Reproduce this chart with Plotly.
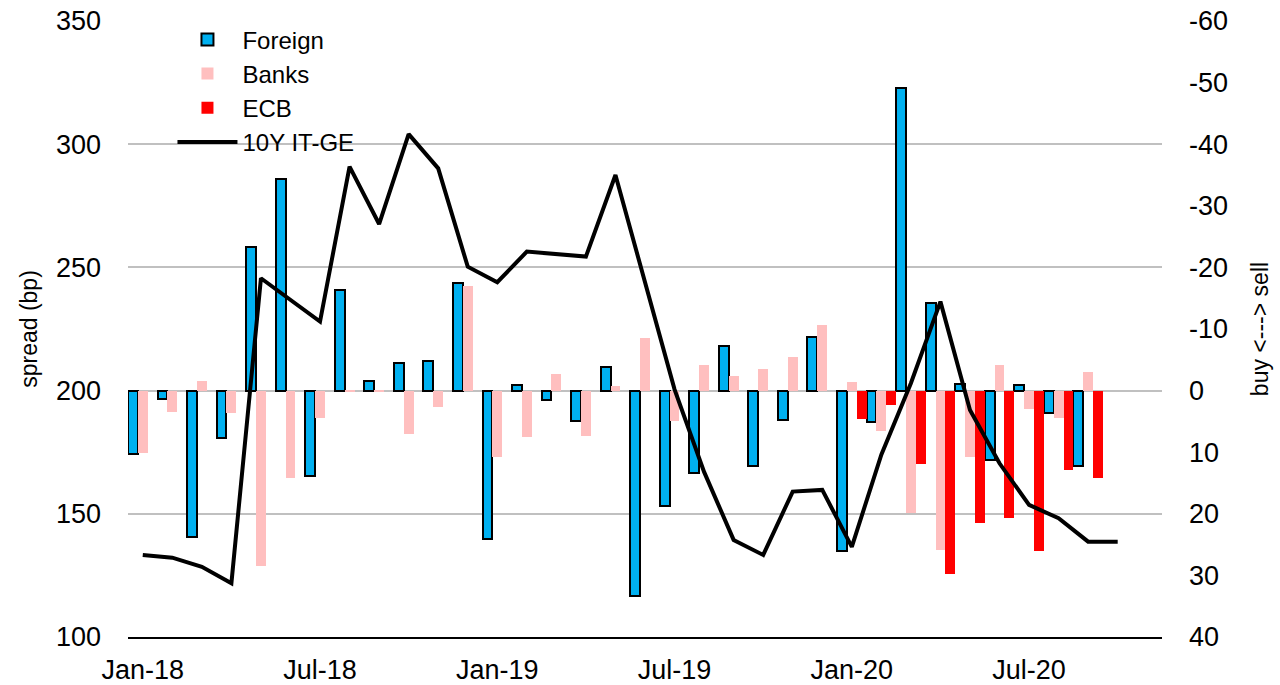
import plotly.graph_objects as go
import pandas as pd

# Categories: monthly, Jan-18 .. Nov-20
months = list(pd.date_range("2018-01-01", "2020-11-01", freq="MS").strftime("%b-%y"))
tick_labels = ["Jan-18", "Jul-18", "Jan-19", "Jul-19", "Jan-20", "Jul-20"]
right_ticks = [-60, -50, -40, -30, -20, -10, 0, 10, 20, 30, 40]
left_ticks = [100, 150, 200, 250, 300, 350]

# Net purchases (right axis, reversed: negative = sell), Jan-18 .. Sep-20
foreign = [10.3, 1.3, 23.8, 7.7, -23.3, -34.4, 13.9, -16.3, -1.6, -4.5, -4.8, -17.4,
           24.1, -0.9, 1.6, 4.9, -3.8, 33.4, 18.7, 13.4, -7.3, 12.2, 4.8, -8.7,
           26.0, 5.1, -49.1, -14.2, -1.1, 11.3, -0.9, 3.7, 12.3]
banks = [10.2, 3.4, -1.5, 3.7, 28.5, 14.2, 4.4, 0.3, 0.3, 7.1, 2.7, -17.0,
         10.7, 7.6, -2.7, 7.3, -0.8, -8.5, 4.9, -4.2, -2.3, -3.5, -5.4, -10.6,
         -1.4, 6.5, 19.9, 25.9, 10.7, -4.1, 3.0, 4.4, -3.0]
ecb = [None] * 24 + [4.6, 2.4, 11.9, 29.8, 21.5, 20.6, 26.1, 12.9, 14.2]

# 10Y IT-GE spread (left axis, bp), Jan-18 .. Oct-20
spread = [133.3, 132.2, 128.5, 121.8, 245.6, 237.0, 228.0, 290.9, 267.6, 304.1, 290.2, 250.3,
          244.0, 256.4, 255.3, 254.4, 287.5, 244.0, 200.5, 167.0, 139.4, 133.3, 159.0, 159.7,
          136.6, 174.0, 203.0, 236.1, 192.1, 170.5, 153.6, 148.2, 138.7, 138.7]

FONT = "Liberation Sans, Arial, sans-serif"

fig = go.Figure()
fig.add_bar(x=months[:len(foreign)], y=foreign, name="Foreign", yaxis="y",
            marker=dict(color="#00B0F0", line=dict(color="black", width=2)))
fig.add_bar(x=months[:len(banks)], y=banks, name="Banks", yaxis="y",
            marker=dict(color="#FFBFBF", line=dict(width=0)))
fig.add_bar(x=months[:len(ecb)], y=ecb, name="ECB", yaxis="y",
            marker=dict(color="#FF0000", line=dict(width=0)))
fig.add_scatter(x=months[:len(spread)], y=spread, name="10Y IT-GE", yaxis="y2",
                mode="lines", line=dict(color="black", width=4))

fig.update_layout(
    width=1280, height=685,
    margin=dict(l=128, r=118, t=21, b=48, autoexpand=False),
    paper_bgcolor="white", plot_bgcolor="white",
    font=dict(family=FONT, size=27, color="black"),
    barmode="group", bargap=0, bargroupgap=0,
    showlegend=True,
    legend=dict(x=0.043, y=1.006, xanchor="left", yanchor="top",
                bgcolor="rgba(0,0,0,0)", font=dict(size=24), itemwidth=60,
                tracegroupgap=0),
    xaxis=dict(type="category", categoryorder="array", categoryarray=months,
               range=[-0.5, len(months) - 0.5], tickvals=tick_labels, ticktext=tick_labels,
               showline=True, linecolor="black", linewidth=2, ticks="",
               showgrid=False, zeroline=False, ticklabelstandoff=8,
               ticklabeloverflow="allow",
               automargin=False, tickfont=dict(size=27)),
    yaxis=dict(side="right", range=[40, -60], tickvals=right_ticks,
               ticktext=[str(v) for v in right_ticks],
               showgrid=False, zeroline=False, showline=False, ticks="",
               ticklabelstandoff=26, tickfont=dict(size=27), automargin=False,
               ticklabeloverflow="allow",
               title=dict(text="buy <---> sell", font=dict(size=23), standoff=24)),
    yaxis2=dict(overlaying="y", side="left", range=[100, 350],
                tickvals=left_ticks, ticktext=[str(v) for v in left_ticks],
                showgrid=True, gridcolor="#C0C0C0", gridwidth=2,
                zeroline=False, showline=False, ticks="", automargin=False,
                ticklabeloverflow="allow",
                ticklabelstandoff=26, tickfont=dict(size=27),
                title=dict(text="spread (bp)", font=dict(size=23), standoff=11)),
)

fig.write_html("out.html", config={"displayModeBar": False},
               post_script="document.body.style.margin='0';")
